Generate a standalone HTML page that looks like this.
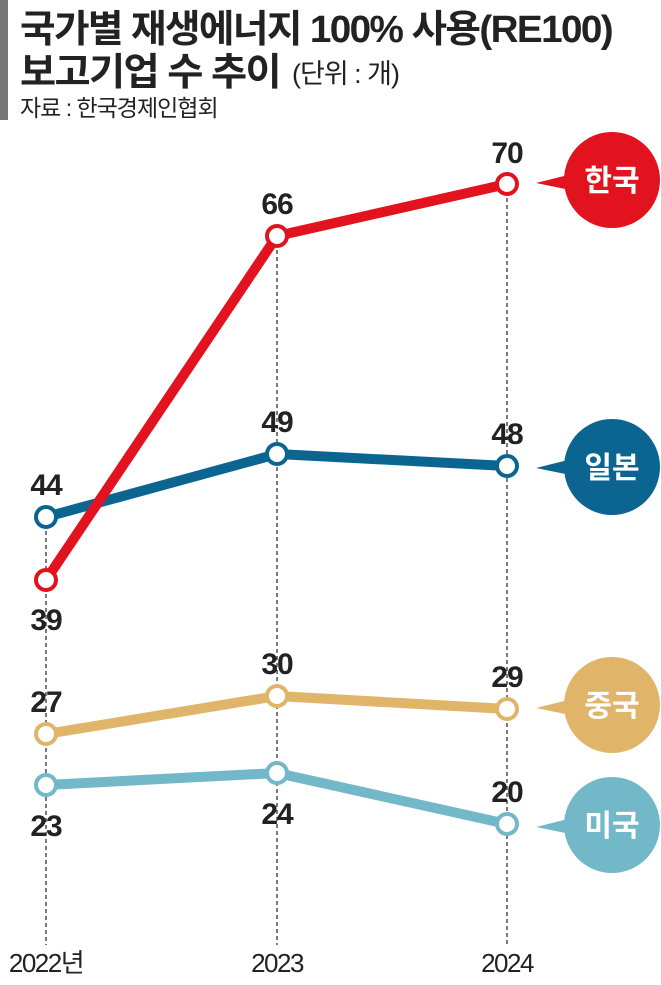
<!DOCTYPE html><html><head><meta charset="utf-8"><style>
body{margin:0;background:#fff;width:661px;height:980px;overflow:hidden}
svg text{font-family:"Liberation Sans","Noto Sans CJK KR",sans-serif}
</style></head><body>
<svg width="661" height="980" viewBox="0 0 661 980">
<rect x="0" y="0" width="8" height="120" fill="#777"/>
<text x="20" y="42" font-size="38" font-weight="bold" fill="#222" letter-spacing="-1.6" textLength="592" lengthAdjust="spacingAndGlyphs">국가별 재생에너지 100% 사용(RE100)</text>
<text x="20" y="85" font-size="38" font-weight="bold" fill="#222" letter-spacing="-1.6" textLength="260" lengthAdjust="spacingAndGlyphs">보고기업 수 추이</text>
<text x="292" y="83" font-size="27" fill="#222" letter-spacing="-1">(단위 : 개)</text>
<text x="20" y="116" font-size="23" fill="#222" letter-spacing="-1">자료 : 한국경제인협회</text>
<g stroke="#333" stroke-width="1.3" stroke-dasharray="4,3">
<line x1="46" y1="517" x2="46" y2="945"/><line x1="277" y1="236" x2="277" y2="945"/><line x1="507" y1="184" x2="507" y2="945"/></g>
<g fill="none" stroke-width="10" stroke-linejoin="round">
<polyline points="46,785 277,773 507,824" stroke="#73b8c8"/>
<polyline points="46,734 277,696 507,709" stroke="#e0b56a"/>
<polyline points="46,517 277,454 507,466" stroke="#0b6590"/>
<polyline points="46,580 277,236 507,184" stroke="#e2121f"/>
</g>
<g fill="#fff" stroke-width="4">
<g stroke="#73b8c8"><circle cx="46" cy="785" r="10"/><circle cx="277" cy="773" r="10"/><circle cx="507" cy="824" r="10"/></g>
<g stroke="#e0b56a"><circle cx="46" cy="734" r="10"/><circle cx="277" cy="696" r="10"/><circle cx="507" cy="709" r="10"/></g>
<g stroke="#0b6590"><circle cx="46" cy="517" r="10"/><circle cx="277" cy="454" r="10"/><circle cx="507" cy="466" r="10"/></g>
<g stroke="#e2121f"><circle cx="46" cy="580" r="10"/><circle cx="277" cy="236" r="10"/><circle cx="507" cy="184" r="10"/></g>
</g>
<g font-size="30" font-weight="bold" fill="#222" text-anchor="middle" letter-spacing="-1">
<text x="507" y="163">70</text><text x="277" y="214">66</text><text x="46" y="630">39</text>
<text x="46" y="495">44</text><text x="277" y="432">49</text><text x="507" y="444">48</text>
<text x="46" y="712">27</text><text x="277" y="674">30</text><text x="507" y="687">29</text>
<text x="46" y="836">23</text><text x="277" y="824">24</text><text x="507" y="802">20</text>
</g>
<g font-size="30" font-weight="bold" fill="#fff" text-anchor="middle">
<polygon points="536,183 580,172 580,192" fill="#e2121f"/><circle cx="612" cy="180" r="48" fill="#e2121f"/><text x="612" y="191">한국</text>
<polygon points="536,468 580,457 580,477" fill="#0b6590"/><circle cx="612" cy="467" r="48" fill="#0b6590"/><text x="612" y="478">일본</text>
<polygon points="536,708 580,697 580,717" fill="#e0b56a"/><circle cx="612" cy="705" r="48" fill="#e0b56a"/><text x="612" y="716">중국</text>
<polygon points="536,827 580,816 580,836" fill="#73b8c8"/><circle cx="612" cy="825" r="48" fill="#73b8c8"/><text x="612" y="836">미국</text>
</g>
<g font-size="26" fill="#222" text-anchor="middle" letter-spacing="-1.5">
<text x="46" y="972">2022년</text><text x="277" y="972">2023</text><text x="507" y="972">2024</text></g>
</svg></body></html>
